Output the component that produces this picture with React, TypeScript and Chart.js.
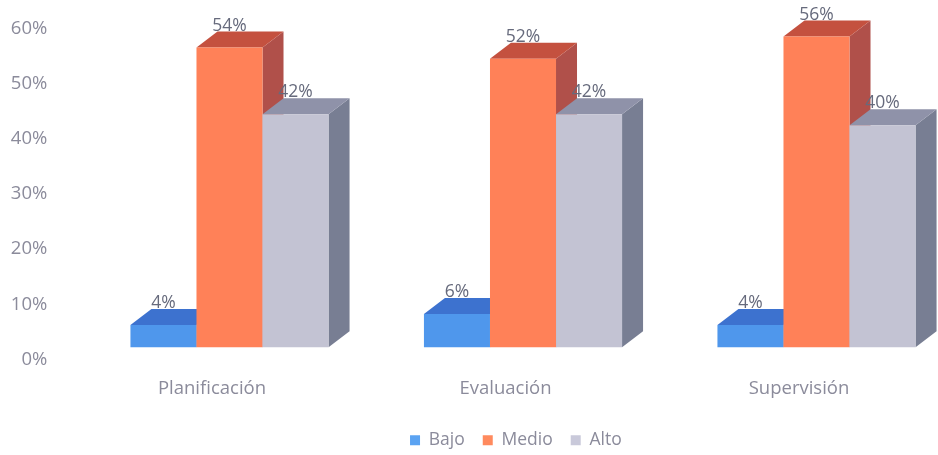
import React, { useEffect, useRef } from "react";
import { Chart, registerables, type Plugin } from "chart.js";

Chart.register(...registerables);

const categories = ["Planificación", "Evaluación", "Supervisión"];
const seriesNames = ["Bajo", "Medio", "Alto"];
const bajo = [4, 6, 4];
const medio = [54, 52, 56];
const alto = [42, 42, 40];

const frontColors = ["#4f97ec", "#ff8158", "#c3c3d3"];
const topColors = ["#3d72cf", "#c4513f", "#8f92a9"];
const sideColors = ["#3a66b0", "#b0504a", "#787e93"];
const legendColors = ["#5ba3f2", "#ff8a5e", "#c9c9da"];

const fontFamily = '"Open Sans", sans-serif';
const textColor = "#8b8b9b";

// Projection of the bars: the front faces sit up and to the right of the axis
// positions, and each box recedes by a fixed depth.
const FRONT_DX = 17.5;
const FRONT_DY = -12;
const DEPTH_X = 21;
const DEPTH_Y = 16;

const box3d: Plugin<"bar"> = {
  id: "box3d",
  // The legend is centred under the boxes rather than under the plot area.
  afterLayout(chart) {
    const legend = chart.legend as any;
    legend.left += 43;
    legend.right += 43;
    legend.top += 4;
    legend.bottom += 4;
  },
  // Boxes are painted left to right so that each one covers the depth of its
  // left neighbour; the library's own last-to-first pass is skipped.
  beforeDatasetsDraw(chart) {
    const { ctx } = chart;
    chart.data.datasets.forEach((_, i) => {
      const meta = chart.getDatasetMeta(i);
      ctx.save();
      ctx.translate(FRONT_DX, FRONT_DY);
      meta.data.forEach((el: any) => {
        const { x, y, base, width } = el.getProps(["x", "y", "base", "width"], true);
        const l = x - width / 2;
        const r = x + width / 2;
        ctx.fillStyle = sideColors[i];
        ctx.beginPath();
        ctx.moveTo(r, y);
        ctx.lineTo(r + DEPTH_X, y - DEPTH_Y);
        ctx.lineTo(r + DEPTH_X, base - DEPTH_Y);
        ctx.lineTo(r, base);
        ctx.closePath();
        ctx.fill();
        ctx.fillStyle = topColors[i];
        ctx.beginPath();
        ctx.moveTo(l, y);
        ctx.lineTo(l + DEPTH_X, y - DEPTH_Y);
        ctx.lineTo(r + DEPTH_X, y - DEPTH_Y);
        ctx.lineTo(r, y);
        ctx.closePath();
        ctx.fill();
      });
      meta.controller.draw();
      ctx.restore();
    });
    return false;
  },
  afterDraw(chart) {
    const { ctx } = chart;
    ctx.save();
    ctx.font = `17.5px ${fontFamily}`;
    ctx.fillStyle = "#666a7c";
    ctx.textAlign = "center";
    ctx.textBaseline = "middle";
    chart.data.datasets.forEach((ds, i) => {
      chart.getDatasetMeta(i).data.forEach((el: any, j) => {
        const { x, y } = el.getProps(["x", "y"], true);
        ctx.fillText(`${ds.data[j]}%`, x + FRONT_DX, y + FRONT_DY - 22);
      });
    });
    ctx.restore();
  },
};

export default function App() {
  const ref = useRef<HTMLCanvasElement>(null);

  useEffect(() => {
    const chart = new Chart(ref.current!, {
      type: "bar",
      data: {
        labels: categories,
        datasets: [bajo, medio, alto].map((data, i) => ({
          label: seriesNames[i],
          data,
          yAxisID: "depth",
          backgroundColor: frontColors[i],
          barPercentage: 1,
          categoryPercentage: 0.675,
        })),
      },
      options: {
        responsive: false,
        animation: false,
        layout: { padding: { top: 27, right: 86.25, bottom: 0 } },
        plugins: {
          tooltip: { enabled: false },
          legend: {
            position: "bottom",
            labels: {
              boxWidth: 10,
              boxHeight: 10,
              padding: 18,
              color: textColor,
              font: { family: fontFamily, size: 17.5 },
              generateLabels: () =>
                seriesNames.map((text, i) => ({
                  text,
                  fillStyle: legendColors[i],
                  strokeStyle: legendColors[i],
                  lineWidth: 0,
                  fontColor: textColor,
                  datasetIndex: i,
                })),
            },
          },
        },
        scales: {
          x: {
            afterFit: (s) => {
              s.height -= 8;
            },
            grid: { display: false, drawTicks: false },
            border: { display: false },
            ticks: {
              color: textColor,
              padding: 18,
              font: { family: fontFamily, size: 18.5 },
            },
          },
          y: {
            min: 0,
            max: 60,
            afterFit: (s) => {
              s.width = 65.25;
            },
            grid: { display: false, drawTicks: false },
            border: { display: false },
            ticks: {
              stepSize: 10,
              color: textColor,
              padding: 18,
              font: { family: fontFamily, size: 18.5 },
              callback: (v) => `${v}%`,
            },
          },
          // The front plane of the boxes is nearer the viewer than the labelled
          // axis, so its scale is very slightly larger.
          depth: {
            display: false,
            min: 0,
            max: 59.5,
          },
        },
      },
      plugins: [box3d],
    });
    return () => chart.destroy();
  }, []);

  return (
    <div
      style={{
        position: "absolute",
        left: 0,
        top: 0,
        width: 938,
        height: 455,
        overflow: "hidden",
        background: "#fff",
      }}
    >
      <canvas ref={ref} width={1032} height={455} style={{ display: "block" }} />
    </div>
  );
}
